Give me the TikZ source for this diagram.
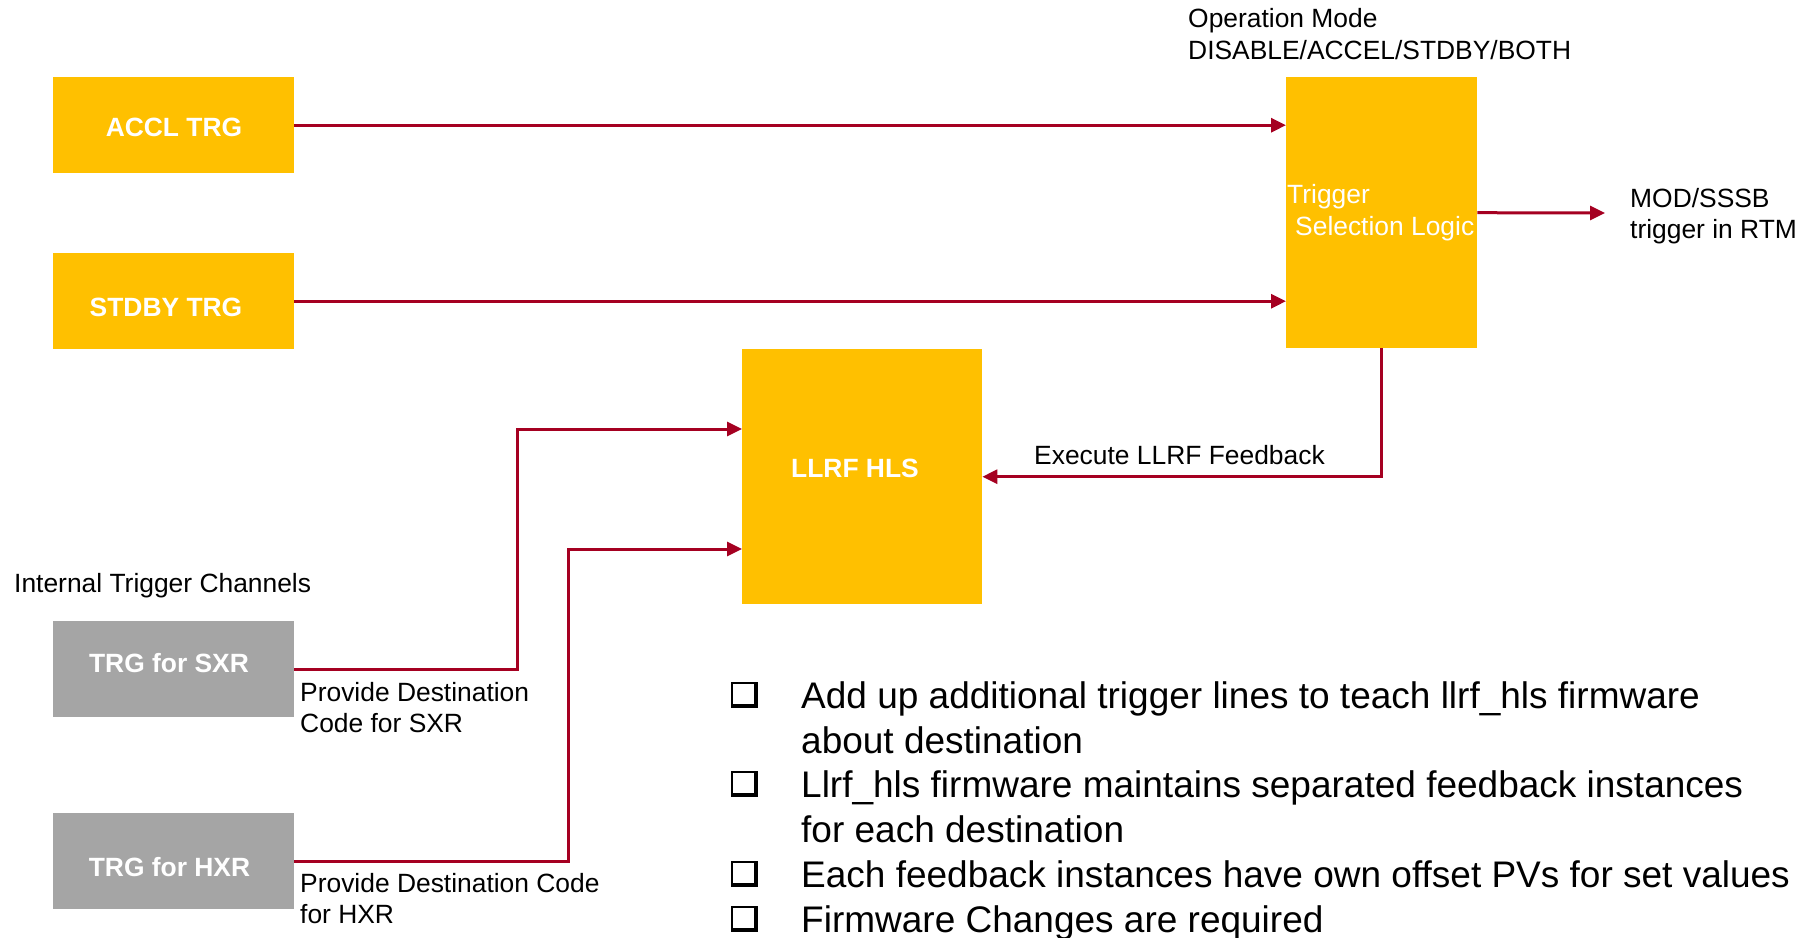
\documentclass[tikz,border=0pt]{standalone}
\usepackage{fontspec}
\setmainfont{Liberation Sans}
\usetikzlibrary{arrows.meta}
\definecolor{boxgold}{HTML}{FFC000}
\definecolor{boxgray}{HTML}{A5A5A5}
\definecolor{wire}{HTML}{A50021}
\tikzset{
  blk/.style={fill=#1, draw=none, anchor=north west, inner sep=0pt},
  btxt/.style={inner sep=0pt, text=white, font=\fontsize{26.4}{31}\selectfont\bfseries},
  sig/.style={draw=wire, line width=3pt, line join=miter,
    -{Triangle[length=15pt,width=14pt]}},
  lbl/.style={anchor=base west, inner sep=0pt, font=\fontsize{26.4}{31}\selectfont},
  wlbl/.style={lbl, text=white},
  bul/.style={anchor=base west, inner sep=0pt, font=\fontsize{37}{45}\selectfont},
  chk/.pic={
    \fill[black] (-1,-26) rectangle (26,0);
    \fill[white] (1,-24) rectangle (22,-4);
  }
}
\begin{document}
\begin{tikzpicture}[x=1pt,y=-1pt]
\useasboundingbox[fill=white] (0,0) rectangle (1807,937);

% trigger sources
\node[blk=boxgold, minimum width=241pt, minimum height=96pt] (accl) at (53,77) {};
\node[blk=boxgold, minimum width=241pt, minimum height=96pt] (stdby) at (53,253) {};
\node[blk=boxgray, minimum width=241pt, minimum height=96pt] (sxr) at (53,621) {};
\node[blk=boxgray, minimum width=241pt, minimum height=96pt] (hxr) at (53,813) {};
\node[btxt] (acclt) at (174,127.5) {ACCL TRG};
\node[btxt] (stdbyt) at (166,307) {STDBY TRG};
\node[btxt] (sxrt) at (169,663.5) {TRG for SXR};
\node[btxt] (hxrt) at (169.5,867) {TRG for HXR};

% selection logic and LLRF block
\node[blk=boxgold, minimum width=191pt, minimum height=271pt] (tsl) at (1286,77) {};
\node[wlbl] (tsl1) at (1287,203) {Trigger};
\node[wlbl] (tsl2) at (1295,235) {Selection Logic};
\node[blk=boxgold, minimum width=240pt, minimum height=255pt] (llrf) at (742,349) {};
\node[btxt] (llrft) at (855,468) {LLRF HLS};

% entry points on the LLRF block and the free output end
\coordinate (inA) at (742,429);
\coordinate (inB) at (742,549);
\coordinate (rtm) at (1605,213);

% connectors
\draw[sig] (accl.east) -- (accl.east -| tsl.west);
\draw[sig] (stdby.east) -- (stdby.east -| tsl.west);
\draw[sig] (tsl.east) -- (rtm);
\draw[sig] (tsl.south) |- (llrf.east);
\draw[sig] (sxr.east) -- ++(223,0) |- (inA);
\draw[sig] (hxr.east) -- ++(274,0) |- (inB);

% labels
\node[lbl] (opm1) at (1188,27) {Operation Mode};
\node[lbl] (opm2) at (1188,59) {DISABLE/ACCEL/STDBY/BOTH};
\node[lbl] (out1) at (1630,207) {MOD/SSSB};
\node[lbl] (out2) at (1630,238) {trigger in RTM};
\node[lbl] (fb) at (1034,464) {Execute LLRF Feedback};
\node[lbl] (itc) at (14,592) {Internal Trigger Channels};
\node[lbl] (sx1) at (300,701) {Provide Destination};
\node[lbl] (sx2) at (300,732) {Code for SXR};
\node[lbl] (hx1) at (300,892) {Provide Destination Code};
\node[lbl] (hx2) at (300,923) {for HXR};

% notes
\foreach \b in {708,797,887,932} { \pic at (732,\b) {chk}; }
\node[bul] (n1a) at (801,708) {Add up additional trigger lines to teach llrf\_hls firmware};
\node[bul] (n1b) at (801,753) {about destination};
\node[bul] (n2a) at (801,797) {Llrf\_hls firmware maintains separated feedback instances};
\node[bul] (n2b) at (801,842) {for each destination};
\node[bul] (n3) at (801,887) {Each feedback instances have own offset PVs for set values};
\node[bul] (n4) at (801,932) {Firmware Changes are required};
\end{tikzpicture}
\end{document}
